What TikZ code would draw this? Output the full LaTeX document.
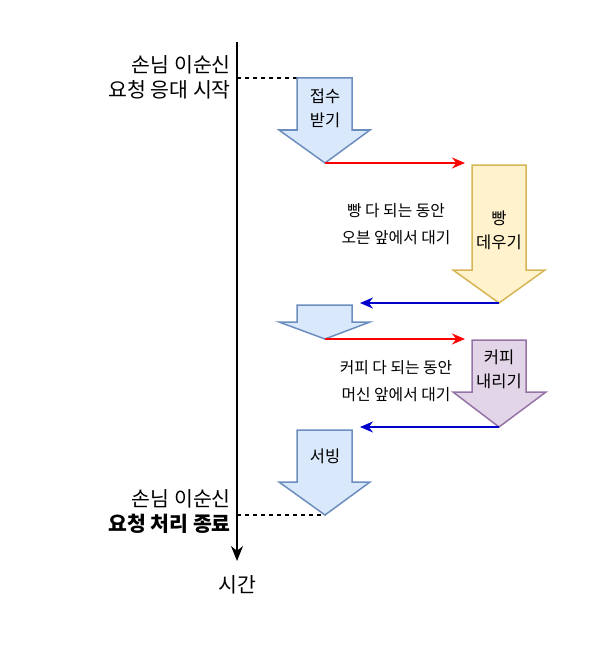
\documentclass[tikz,border=0pt]{standalone}
\usepackage{fontspec}
\setmainfont{Noto Sans CJK KR}
\usetikzlibrary{arrows.meta}
\definecolor{bfill}{HTML}{DAE8FC}
\definecolor{bdraw}{HTML}{6C8EBF}
\definecolor{yfill}{HTML}{FFF2CC}
\definecolor{ydraw}{HTML}{D6B656}
\definecolor{pfill}{HTML}{E1D5E7}
\definecolor{pdraw}{HTML}{9673A6}
\definecolor{retblue}{HTML}{0000CC}
\tikzset{
  bigarrow/.style={line width=1.5pt, line join=miter},
  sidelabel/.style={font=\fontsize{20.5}{25}\selectfont, align=right, anchor=east, inner sep=0pt},
  arrowlabel/.style={font=\fontsize{16.5}{24}\selectfont, align=center, inner sep=0pt},
  waitlabel/.style={font=\fontsize{15.8}{27}\selectfont, align=center, inner sep=0pt},
  goline/.style={draw=red, line width=1.3pt, -{Stealth[length=13pt,width=11pt]}},
  backline/.style={draw=retblue, line width=1.3pt, -{Stealth[length=13pt,width=11pt]}},
  guide/.style={line width=1.2pt, dash pattern=on 4pt off 4pt},
}
\begin{document}
\begin{tikzpicture}[x=1pt,y=-1pt]
\useasboundingbox (0,0) rectangle (611,658);
% timeline
\coordinate (t0) at (237,42);
\coordinate (t1) at (237,561);
\draw[line width=1.5pt, -{Stealth[length=15pt,width=12pt]}] (t0) -- (t1);
\node[font=\fontsize{20.5}{22}\selectfont, inner sep=0pt] (time) at (237,585) {시간};

% start labels
\node[sidelabel] (startlbl) at (231,77) {손님 이순신\\요청 응대 시작};
\coordinate (s0) at (237,78);
\coordinate (s1) at (297,78);
\draw[guide] (s0) -- (s1);

% arrow 1 : 접수 받기
\draw[bigarrow, fill=bfill, draw=bdraw] (297,78) -- (352,78) -- (352,130) -- (370,130) -- (325,163) -- (279,130) -- (297,130) -- cycle;
\coordinate (a1tip) at (325,163);
\node[arrowlabel] (a1) at (325,108) {접수\\받기};

% arrow 2 : 빵 데우기
\draw[bigarrow, fill=yfill, draw=ydraw] (472,165) -- (526,165) -- (526,270) -- (545,270) -- (499,303) -- (453,270) -- (472,270) -- cycle;
\coordinate (a2top) at (465,163);
\coordinate (a2tip) at (499,303);
\node[arrowlabel] (a2) at (499,230) {빵\\데우기};
\node[waitlabel] (w1) at (396,224) {빵 다 되는 동안\\오븐 앞에서 대기};

\draw[goline] (a1tip) -- (a2top);

% arrow 3 : small
\draw[bigarrow, fill=bfill, draw=bdraw] (297,305) -- (352,305) -- (352,322) -- (370,322) -- (325,339) -- (279,322) -- (297,322) -- cycle;
\coordinate (a3top) at (360,303);
\coordinate (a3tip) at (325,339);
\draw[backline] (a2tip) -- (a3top);

% arrow 4 : 커피 내리기
\draw[bigarrow, fill=pfill, draw=pdraw] (472,340) -- (526,340) -- (526,392) -- (546,392) -- (499,427) -- (453,392) -- (472,392) -- cycle;
\coordinate (a4top) at (465,339);
\coordinate (a4tip) at (499,427);
\node[arrowlabel] (a4) at (499,369) {커피\\내리기};
\node[waitlabel] (w2) at (396,381) {커피 다 되는 동안\\머신 앞에서 대기};
\draw[goline] (a3tip) -- (a4top);

% arrow 5 : 서빙
\draw[bigarrow, fill=bfill, draw=bdraw] (297,430) -- (352,430) -- (352,482) -- (370,482) -- (325,515) -- (279,482) -- (297,482) -- cycle;
\coordinate (a5top) at (360,427);
\coordinate (a5tip) at (325,515);
\node[arrowlabel] (a5) at (325,456) {서빙};
\draw[backline] (a4tip) -- (a5top);

% end labels
\coordinate (e0) at (237,515);
\draw[guide] (e0) -- (a5tip);
\node[sidelabel] (endlbl) at (231,512) {손님 이순신\\\textbf{요청 처리 종료}};
\end{tikzpicture}
\end{document}
